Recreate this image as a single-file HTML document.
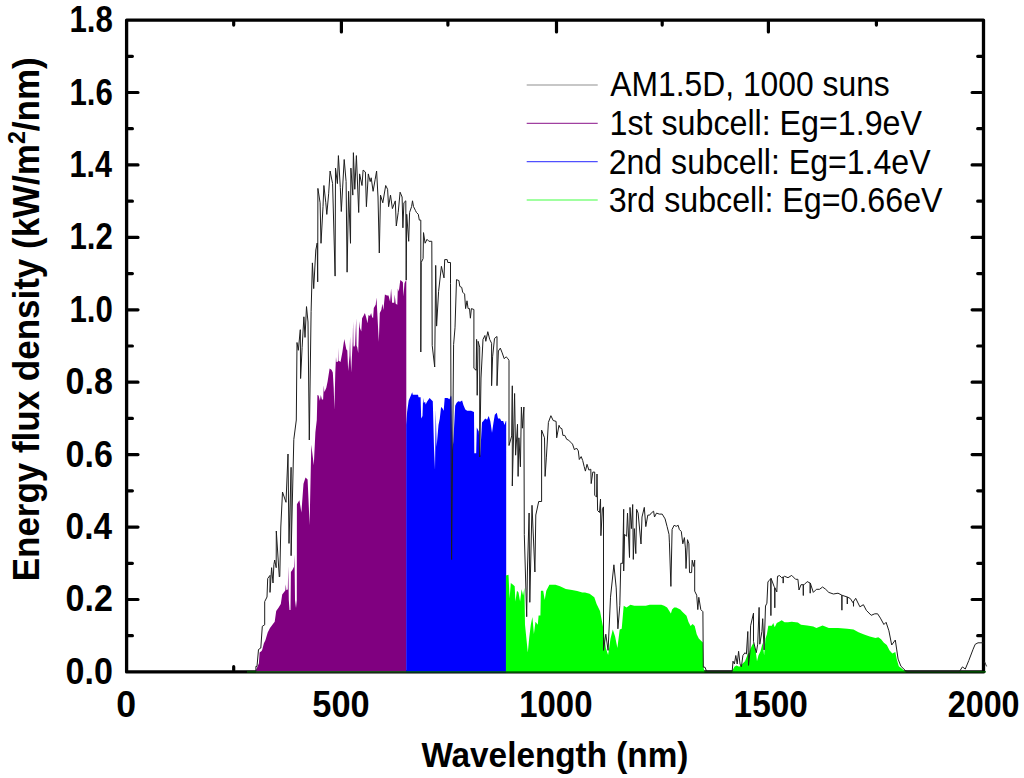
<!DOCTYPE html>
<html><head><meta charset="utf-8"><style>
html,body{margin:0;padding:0;background:#fff;}
svg{display:block;}
.tl{font-family:"Liberation Sans", sans-serif;font-weight:bold;font-size:36px;fill:#000;}
.lg{font-family:"Liberation Sans", sans-serif;font-size:35px;fill:#000;}
</style></head><body>
<svg width="1024" height="778" viewBox="0 0 1024 778">
<rect width="1024" height="778" fill="#fff"/>
<path d="M126.6,20.1H983.5V671.9H126.6Z" fill="none" stroke="#000" stroke-width="3.3" stroke-linejoin="round"/>
<path d="M233.7,670.3V666.7M233.7,21.7V25.1M447.9,670.3V666.7M447.9,21.7V25.1M662.2,670.3V666.7M662.2,21.7V25.1M876.4,670.3V666.7M876.4,21.7V25.1M341.4,670.3V660.1M341.4,21.7V31.9M556.5,670.3V660.1M556.5,21.7V31.9M768.4,670.3V660.1M768.4,21.7V31.9M128.2,635.7H132.4M981.9,635.7H977.7M128.2,599.5H138.0M981.9,599.5H972.1M128.2,563.3H132.4M981.9,563.3H977.7M128.2,527.1H138.0M981.9,527.1H972.1M128.2,490.8H132.4M981.9,490.8H977.7M128.2,454.6H138.0M981.9,454.6H972.1M128.2,418.4H132.4M981.9,418.4H977.7M128.2,382.2H138.0M981.9,382.2H972.1M128.2,346.0H132.4M981.9,346.0H977.7M128.2,309.8H138.0M981.9,309.8H972.1M128.2,273.6H132.4M981.9,273.6H977.7M128.2,237.4H138.0M981.9,237.4H972.1M128.2,201.2H132.4M981.9,201.2H977.7M128.2,164.9H138.0M981.9,164.9H972.1M128.2,128.7H132.4M981.9,128.7H977.7M128.2,92.5H138.0M981.9,92.5H972.1M128.2,56.3H132.4M981.9,56.3H977.7" stroke="#000" stroke-width="3.2" stroke-linecap="round" fill="none"/>
<polygon points="255.9,672.3 255.9,670.3 256.9,668.0 258.9,663.3 259.6,652.5 261.6,651.0 262.3,649.5 263.9,643.3 265.4,640.2 267.7,632.5 270.0,627.9 272.4,624.8 274.7,621.7 276.2,610.9 278.5,607.8 280.8,604.0 282.2,594.5 285.3,590.4 285.8,584.2 286.3,590.0 287.8,589.4 288.3,566.0 288.8,600.0 289.5,610.0 290.5,610.0 290.9,572.0 292.5,569.8 294.0,566.7 294.5,554.4 295.0,600.0 296.0,608.0 296.8,600.0 296.9,504.3 299.4,500.2 301.4,512.5 303.5,483.8 305.5,477.6 307.6,479.6 309.6,524.9 311.3,444.7 313.8,465.2 315.4,432.3 316.8,420.0 317.4,394.9 318.6,395.6 319.9,400.7 320.8,394.9 321.9,399.4 323.1,399.4 323.8,385.3 324.3,392.0 325.1,390.4 326.3,387.8 327.6,381.4 329.6,368.6 331.5,369.8 332.8,372.4 333.7,387.8 334.4,409.7 335.3,372.4 336.0,357.0 336.5,362.1 337.3,362.1 338.4,360.8 338.6,347.4 338.9,360.8 340.5,362.1 342.4,351.9 344.3,339.0 346.3,349.3 347.3,350.6 348.2,371.1 349.5,355.7 350.1,336.4 350.5,355.0 351.2,372.4 352.1,353.1 352.7,341.6 353.1,321.2 353.5,346.0 354.1,346.9 355.1,344.9 356.2,318.2 356.6,346.0 357.2,346.9 358.2,353.1 359.2,321.2 359.8,327.4 361.3,331.5 362.1,318.2 363.4,316.1 364.9,313.0 366.4,318.2 367.5,323.3 368.5,315.1 370.0,316.1 371.1,313.0 372.1,317.1 373.1,318.2 373.8,307.9 375.7,304.8 376.5,297.6 377.2,311.0 378.8,341.8 379.8,313.0 381.3,309.9 382.4,303.8 383.4,309.9 384.9,294.5 387.0,295.5 388.5,295.5 390.1,301.7 391.1,288.4 392.1,302.7 394.2,302.7 394.7,294.5 395.7,303.8 397.3,304.8 397.8,288.4 398.8,291.4 400.3,280.1 401.9,281.2 402.9,282.2 403.4,296.6 404.5,283.2 406.0,280.1 406.3,279.5 406.3,672.3" fill="#800080"/>
<polygon points="406.2,425.0 407.1,412.1 408.7,400.6 410.3,396.7 412.2,392.2 412.8,394.8 418.0,394.8 418.6,397.3 420.6,397.3 421.2,418.5 422.5,416.0 423.1,398.0 423.8,403.1 425.1,401.8 425.7,404.4 427.0,401.8 429.6,398.0 431.5,399.9 432.8,401.2 434.0,448.1 435.0,470.0 435.5,430.0 435.7,409.6 436.2,430.0 436.6,446.8 438.5,425.0 439.8,418.5 441.1,407.0 442.4,408.3 443.7,410.8 444.7,398.0 447.5,398.0 449.5,399.3 450.8,395.4 451.4,396.7 452.3,450.7 453.3,441.7 455.2,405.7 456.5,403.1 458.2,401.2 460.1,401.8 462.1,400.6 463.4,405.1 465.3,409.6 467.2,410.8 471.1,410.8 474.0,412.1 474.3,453.2 476.2,453.2 476.8,427.5 478.8,431.4 480.1,455.8 482.0,422.4 483.3,421.1 485.2,418.5 487.1,419.8 488.7,416.0 490.3,421.1 492.0,432.7 493.5,422.4 494.8,414.7 496.8,412.8 498.0,418.5 500.0,418.5 501.3,421.1 503.2,421.1 504.5,425.0 505.8,421.1 506.2,421.1 506.2,672.3 406.2,672.3" fill="#0000ff"/>
<polygon points="505.9,575.4 508.5,574.7 509.6,598.6 510.8,583.1 513.1,584.7 514.7,586.2 515.4,601.6 517.0,590.8 518.5,592.4 520.1,601.6 521.6,589.3 523.1,595.5 524.4,587.8 525.0,624.8 527.8,652.5 529.3,637.1 530.8,624.8 532.4,617.1 533.9,634.0 535.5,621.7 537.8,624.8 538.6,615.5 540.4,615.5 540.9,590.8 543.2,590.8 544.7,600.1 546.3,590.8 549.4,584.7 552.4,584.7 555.5,584.7 560.0,586.2 565.8,588.9 572.0,590.0 577.2,591.0 582.3,592.5 585.0,592.5 589.6,593.7 594.3,597.2 596.6,604.1 600.0,611.1 603.5,629.6 605.8,648.1 608.1,655.0 610.5,638.8 612.8,629.6 615.1,636.5 617.4,648.1 619.7,629.6 621.7,628.8 623.7,605.7 626.6,607.6 630.4,604.7 634.3,605.7 638.1,605.7 642.0,605.7 645.8,605.7 649.7,604.7 653.6,604.7 657.4,604.7 661.3,604.7 664.2,605.7 667.1,607.6 669.0,610.5 670.9,613.4 672.1,609.6 674.1,607.5 676.2,607.5 678.2,608.6 680.3,609.6 682.3,611.7 684.4,613.7 686.5,615.8 688.5,621.9 690.6,626.1 692.6,624.0 694.7,626.1 696.7,634.3 698.8,638.4 700.8,640.4 702.9,642.5 703.5,667.2 704.5,672.3 732.2,672.3 732.2,671.0 734.4,666.8 736.5,665.4 739.3,666.8 742.1,664.0 745.0,661.2 747.8,654.1 749.2,652.7 750.6,648.5 752.0,645.6 753.5,642.8 755.6,649.9 757.0,661.2 758.4,655.5 760.5,651.3 762.7,642.8 764.1,655.5 765.5,638.5 766.9,634.3 768.3,625.8 771.8,625.8 773.3,623.0 774.7,627.2 776.8,623.0 779.6,621.6 781.7,620.2 784.6,622.3 788.0,622.3 791.7,621.7 797.9,622.5 801.0,624.8 807.2,625.6 813.3,626.4 816.4,627.9 822.6,625.6 828.8,627.9 838.0,627.9 847.3,628.7 853.5,629.4 858.5,632.2 864.1,634.4 869.8,636.5 875.5,637.9 878.3,637.2 881.1,639.3 883.9,642.8 886.8,645.0 889.6,650.6 892.4,653.5 895.3,652.0 896.7,659.1 898.8,666.2 902.3,669.0 905.9,672.3 505.9,672.3" fill="#00ff00"/>
<path d="M247,671.9H986" stroke="#006400" stroke-width="1.1" fill="none"/>
<path d="M984.6,661.8L986.6,666.4" stroke="#333" stroke-width="1" fill="none"/>
<polyline points="255.9,671.5 255.9,666.4 257.0,666.4 258.5,649.5 260.8,648.0 262.3,626.3 264.7,624.8 264.7,601.6 267.0,597.0 267.7,578.5 270.0,575.4 270.0,592.4 271.6,567.7 273.0,583.0 273.9,564.6 274.7,560.0 276.2,567.7 276.3,531.0 279.3,577.0 279.8,576.3 280.8,527.0 282.5,492.0 286.0,502.3 288.0,454.0 289.0,543.4 291.1,467.3 291.1,555.7 293.8,439.5 296.3,420.0 297.0,342.5 298.3,350.3 300.3,329.7 300.6,378.5 302.1,347.7 303.9,316.8 305.0,337.4 306.5,306.6 308.0,322.0 309.3,440.0 311.1,311.7 312.4,262.9 313.7,288.6 315.8,250.0 317.2,243.0 317.7,281.9 317.9,188.4 320.1,202.8 321.0,243.3 323.0,206.7 323.9,185.5 325.8,202.8 326.8,214.4 328.7,193.2 330.1,171.0 332.6,183.6 335.1,276.1 335.5,168.1 337.4,183.6 338.4,155.6 340.3,187.4 341.3,211.5 344.2,159.5 346.1,181.6 347.1,272.2 348.6,191.3 350.5,243.3 350.9,168.1 352.8,195.1 353.4,152.7 354.8,189.3 356.4,155.6 358.7,212.5 359.6,173.9 362.0,185.5 363.1,170.1 365.4,172.0 366.4,206.7 368.3,173.9 370.2,181.6 371.2,177.8 373.1,191.3 375.1,179.7 376.6,171.0 378.0,197.0 379.3,253.0 380.5,195.1 382.8,202.8 385.7,185.5 387.6,189.3 388.6,206.7 390.5,195.1 392.4,208.6 395.3,200.9 396.3,226.0 398.2,212.5 400.1,192.2 402.1,197.0 402.9,227.8 403.9,202.7 405.8,200.8 406.2,280.0 406.7,214.3 408.7,241.3 409.6,212.4 411.6,206.6 412.5,200.8 413.5,206.6 415.4,210.4 416.4,212.4 418.3,214.3 419.3,220.1 420.8,220.1 420.8,352.0 421.2,262.5 423.1,258.6 423.5,232.6 425.1,243.2 427.0,239.3 428.9,241.3 431.8,241.3 432.2,345.4 434.7,367.0 435.7,265.4 436.6,326.1 438.6,291.4 441.4,266.3 444.0,277.9 444.7,259.6 447.2,259.6 447.8,262.5 450.5,262.5 450.5,283.7 451.6,559.5 453.6,344.6 455.0,327.8 456.5,279.6 458.9,280.6 459.8,286.4 461.7,287.4 462.7,292.2 464.6,294.1 465.6,308.6 467.0,300.8 468.1,308.6 469.5,308.6 470.4,318.2 471.4,308.6 473.9,309.5 473.9,368.3 476.2,370.3 476.6,339.4 477.2,395.3 478.1,341.3 479.7,347.1 479.7,457.0 481.0,378.0 483.0,339.4 484.9,335.5 485.8,341.3 487.8,331.7 489.7,339.4 491.6,343.3 491.6,385.7 492.6,356.8 494.5,338.4 497.0,336.5 497.0,385.7 498.4,351.0 500.3,348.1 502.2,352.9 504.2,358.7 506.1,356.8 508.0,358.7 509.0,360.6 509.0,445.5 511.7,435.9 512.3,385.8 512.3,486.0 514.6,393.5 515.6,455.2 517.5,424.3 518.1,476.4 518.9,437.8 520.4,466.8 521.4,407.0 522.4,428.2 523.9,407.0 524.3,534.6 526.7,616.7 527.4,572.0 529.1,513.0 529.8,602.3 532.0,505.3 534.9,572.0 535.8,515.0 538.7,501.5 541.6,501.5 541.6,430.1 544.5,437.8 545.1,476.4 546.4,457.1 548.4,422.4 550.9,415.7 553.2,420.5 556.1,421.4 556.7,437.8 559.0,425.3 560.0,427.7 561.9,428.7 562.9,435.4 564.8,435.4 566.7,439.3 568.7,440.2 570.6,442.2 572.5,444.1 574.5,449.9 576.4,448.0 578.3,450.8 579.3,459.5 581.2,456.6 582.7,460.5 584.1,466.3 585.4,471.1 587.0,464.3 588.9,470.1 590.8,469.2 591.2,483.6 592.8,472.1 594.7,472.1 594.7,495.2 596.6,497.1 597.0,474.0 597.6,510.6 599.5,512.5 600.5,499.0 600.9,535.7 602.4,508.7 603.5,506.9 603.5,650.4 605.8,634.2 608.1,650.4 610.5,597.2 613.9,564.8 616.2,587.9 617.9,628.8 619.8,605.7 620.8,563.3 622.7,563.3 623.7,509.3 623.7,571.0 624.6,534.3 626.6,536.3 627.5,513.1 629.5,557.5 630.0,507.4 631.4,528.6 632.7,504.5 633.3,559.4 634.3,528.6 635.8,553.6 636.6,509.3 638.1,513.1 641.0,544.0 642.0,517.0 644.3,507.4 645.8,526.6 647.8,515.1 649.7,515.1 651.2,513.1 653.6,511.2 654.5,517.0 656.5,513.1 659.3,514.1 662.2,514.1 665.1,518.9 667.1,526.6 669.0,534.3 669.4,542.1 670.9,586.4 672.1,529.4 674.1,525.3 676.2,526.3 678.2,525.3 679.3,529.4 681.3,531.5 682.8,543.8 684.4,537.6 685.4,547.9 686.0,568.5 687.5,539.7 688.9,543.8 689.5,572.6 691.6,572.6 692.2,560.2 693.6,566.4 694.7,560.2 694.7,591.1 696.7,595.2 697.8,609.6 698.8,597.3 700.8,609.6 702.9,611.7 703.3,667.2 705.0,667.2 706.6,671.3 732.2,671.3 733.0,661.2 734.4,664.0 735.8,655.5 737.2,664.0 738.6,651.3 740.0,664.0 741.4,666.8 742.9,655.5 745.0,652.7 746.4,654.1 747.8,631.5 748.5,665.4 749.9,652.7 750.6,625.8 753.5,613.1 753.5,641.4 756.3,652.7 757.7,644.2 759.1,607.4 759.8,644.2 761.9,631.5 762.7,618.7 764.1,649.9 765.5,606.0 766.9,603.2 767.9,582.0 769.0,580.6 770.4,579.1 770.8,578.6 770.9,615.6 771.0,578.6 771.1,578.4 774.0,586.2 774.7,587.8 774.8,607.8 774.9,587.8 776.8,591.9 777.5,576.3 779.6,575.6 781.7,577.7 783.1,577.0 783.2,583.1 783.3,577.0 784.6,576.3 788.0,577.7 791.7,575.4 795.6,579.3 797.9,579.3 799.0,590.0 801.0,584.7 803.2,584.7 803.3,595.5 803.4,584.7 804.1,584.7 807.2,581.6 810.2,583.1 810.1,583.1 810.2,593.2 810.3,583.1 813.3,592.4 816.4,589.3 819.5,589.3 822.6,587.0 825.7,589.3 828.8,592.4 833.4,594.0 838.0,593.2 841.8,595.1 841.9,610.2 842.0,595.1 842.7,595.5 847.3,597.0 847.2,597.0 847.3,604.0 847.4,597.0 850.4,598.6 852.8,602.5 853.4,601.5 853.5,606.3 853.6,601.5 855.7,598.3 859.9,606.8 863.4,604.7 866.3,610.3 871.2,615.3 874.8,613.8 877.6,613.8 880.4,618.1 883.9,624.5 886.1,622.3 888.9,630.8 891.7,645.0 895.3,640.0 898.1,659.1 900.9,666.2 905.2,670.4 907.0,671.3 959.6,671.3 962.4,666.9 965.3,669.0 968.8,660.5 973.1,649.2 975.2,644.3 978.0,642.8 983.5,642.8" fill="none" stroke="#1e1e1e" stroke-width="1" stroke-linejoin="miter"/>
<text transform="translate(65.56,683.90) scale(0.9208,1)" font-family="Liberation Sans" font-weight="bold" font-size="37">0.0</text>
<text transform="translate(65.56,611.48) scale(0.9208,1)" font-family="Liberation Sans" font-weight="bold" font-size="37">0.2</text>
<text transform="translate(65.60,539.06) scale(0.9020,1)" font-family="Liberation Sans" font-weight="bold" font-size="37">0.4</text>
<text transform="translate(65.56,466.63) scale(0.9208,1)" font-family="Liberation Sans" font-weight="bold" font-size="37">0.6</text>
<text transform="translate(65.56,394.21) scale(0.9208,1)" font-family="Liberation Sans" font-weight="bold" font-size="37">0.8</text>
<text transform="translate(69.41,321.79) scale(0.8438,1)" font-family="Liberation Sans" font-weight="bold" font-size="37">1.0</text>
<text transform="translate(69.41,249.37) scale(0.8438,1)" font-family="Liberation Sans" font-weight="bold" font-size="37">1.2</text>
<text transform="translate(69.45,176.94) scale(0.8265,1)" font-family="Liberation Sans" font-weight="bold" font-size="37">1.4</text>
<text transform="translate(69.41,104.52) scale(0.8438,1)" font-family="Liberation Sans" font-weight="bold" font-size="37">1.6</text>
<text transform="translate(69.41,32.10) scale(0.8438,1)" font-family="Liberation Sans" font-weight="bold" font-size="37">1.8</text>
<text transform="translate(116.27,716.60) scale(0.9647,1)" font-family="Liberation Sans" font-weight="bold" font-size="37">0</text>
<text transform="translate(312.37,716.60) scale(0.9288,1)" font-family="Liberation Sans" font-weight="bold" font-size="37">500</text>
<text transform="translate(519.22,716.60) scale(0.8899,1)" font-family="Liberation Sans" font-weight="bold" font-size="37">1000</text>
<text transform="translate(733.59,716.60) scale(0.9025,1)" font-family="Liberation Sans" font-weight="bold" font-size="37">1500</text>
<text transform="translate(947.73,716.60) scale(0.8725,1)" font-family="Liberation Sans" font-weight="bold" font-size="37">2000</text>
<text transform="translate(421.40,767.10) scale(0.9382,1)" font-family="Liberation Sans" font-weight="bold" font-size="35.5">Wavelength (nm)</text>
<text transform="translate(610.30,96.40) scale(0.9095,1)" font-family="Liberation Sans" font-weight="normal" font-size="35">AM1.5D, 1000 suns</text>
<text transform="translate(609.54,134.60) scale(0.9208,1)" font-family="Liberation Sans" font-weight="normal" font-size="35">1st subcell: Eg=1.9eV</text>
<text transform="translate(608.67,173.60) scale(0.9169,1)" font-family="Liberation Sans" font-weight="normal" font-size="35">2nd subcell: Eg=1.4eV</text>
<text transform="translate(608.66,212.20) scale(0.9205,1)" font-family="Liberation Sans" font-weight="normal" font-size="35">3rd subcell: Eg=0.66eV</text>
<text transform="translate(39,319.3) rotate(-90)" x="0" y="0" text-anchor="middle" class="tl" textLength="524" lengthAdjust="spacingAndGlyphs">Energy flux density (kW/m<tspan dy="-14" font-size="24">2</tspan><tspan dy="14">/nm)</tspan></text>
<g stroke-width="1.3">
<line x1="526.7" y1="85" x2="597.7" y2="85" stroke="#b4b4b4"/>
<line x1="526.7" y1="123.3" x2="597.7" y2="123.3" stroke="#a040a0"/>
<line x1="526.7" y1="161.7" x2="597.7" y2="161.7" stroke="#5050ff"/>
<line x1="526.7" y1="200" x2="597.7" y2="200" stroke="#80ff80"/>
</g>
</svg>
</body></html>
